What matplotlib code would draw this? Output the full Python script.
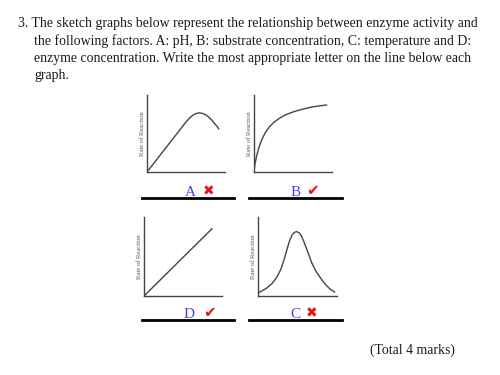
import matplotlib.pyplot as plt
from matplotlib.lines import Line2D

# ── data (sketch curves, arbitrary 0–10 units) ────────────────────────────────
ph_x = [0, 1.0, 2.0, 3.0, 4.0, 5.0, 5.5, 5.9, 6.3, 6.7, 7.1, 7.5, 7.9, 8.3, 8.7, 9.0, 9.2]
ph_y = [0, 1.3, 2.6, 3.9, 5.2, 6.5, 7.05, 7.4, 7.6, 7.68, 7.62, 7.45, 7.15, 6.75, 6.25, 5.9, 5.6]

sub_x = [0, 0.1, 0.3, 0.6, 1.0, 1.5, 2.0, 2.6, 3.3, 4.1, 5.0, 6.0, 7.2, 8.3, 9.3]
sub_y = [0, 0.9, 1.9, 3.1, 4.2, 5.2, 5.9, 6.5, 7.0, 7.45, 7.8, 8.1, 8.4, 8.58, 8.7]

enz_x = [0, 8.7]
enz_y = [0, 8.5]

temp_x = [0, 0.5, 1.1, 1.8, 2.4, 2.9, 3.3, 3.7, 4.0, 4.3, 4.6, 4.9, 5.2, 5.5, 5.8,
          6.1, 6.4, 6.8, 7.3, 7.9, 8.5, 9.1, 9.7]
temp_y = [0.4, 0.65, 1.0, 1.6, 2.4, 3.4, 4.6, 6.0, 7.0, 7.7, 8.05, 8.15, 8.0, 7.6, 6.9,
          6.1, 5.3, 4.2, 3.2, 2.3, 1.5, 0.9, 0.5]

graph_order = ["A", "B", "D", "C"]
answers     = {"A": "A", "B": "B", "D": "D", "C": "C"}
correct     = {"A": False, "B": True, "D": True, "C": False}

question = [
    ("3. The sketch graphs below represent the relationship between enzyme activity and", 18),
    ("the following factors. A: pH, B: substrate concentration, C: temperature and D:", 34),
    ("enzyme concentration. Write the most appropriate letter on the line below each", 34),
    ("graph.", 34),
]

W, H = 500, 375
fig = plt.figure(figsize=(W / 100, H / 100), dpi=100, facecolor="white")
plt.rcParams["font.family"] = ["Liberation Serif", "DejaVu Serif"]


def fx(px):
    return px / W


def fy(py):
    return 1 - py / H


# ── question text ─────────────────────────────────────────────────────────────
for i, (line, x0) in enumerate(question):
    fig.text(fx(x0), fy(24 + 17.3 * i), line, fontsize=9.9, color="#1a1a1a",
             ha="left", va="center")

# ── graphs ────────────────────────────────────────────────────────────────────
# axes box (left, right, top, bottom), answer line (x0, x1, y), letter x, mark x
boxes = {
    "A": (147, 225, 95, 172),
    "B": (254, 332, 95, 172),
    "D": (144, 222, 217, 296),
    "C": (258, 337, 217, 296),
}
lines = {
    "A": (142, 234, 198),
    "B": (249, 342, 198),
    "D": (142, 234, 320),
    "C": (249, 342, 320),
}
letter_pos = {"A": (190, 209), "B": (296, 313), "D": (189, 210), "C": (295, 312)}
curves = {
    "A": (ph_x, ph_y),
    "B": (sub_x, sub_y),
    "D": (enz_x, enz_y),
    "C": (temp_x, temp_y),
}

for key in graph_order:
    l, r, t, b = boxes[key]
    ax = fig.add_axes([fx(l), fy(b), (r - l) / W, (b - t) / H])
    ax.plot(*curves[key], color="#444444", lw=1.0)
    ax.set_xlim(0, 10)
    ax.set_ylim(0, 10)
    ax.set_xticks([])
    ax.set_yticks([])
    for s in ["top", "right"]:
        ax.spines[s].set_visible(False)
    for s in ["left", "bottom"]:
        ax.spines[s].set_color("#444444")
        ax.spines[s].set_linewidth(1.0)
    ax.set_ylabel("Rate of Reaction", fontsize=4.8, color="#555555", labelpad=1.5)

    # answer line and marks
    x0, x1, yl = lines[key]
    fig.add_artist(Line2D([fx(x0), fx(x1)], [fy(yl), fy(yl)], color="black", lw=2.0))
    lx, mx = letter_pos[key]
    fig.text(fx(lx), fy(yl - 6), answers[key], fontsize=11,
             color="#4444dd", ha="center", va="center")
    mark = "\u2714" if correct[key] else "\u2716"
    fig.text(fx(mx), fy(yl - 7), mark, fontsize=11 if correct[key] else 10,
             color="#ee1111", ha="center", va="center", family="DejaVu Sans")

fig.text(fx(370), fy(350), "(Total 4 marks)", fontsize=9.9, color="#1a1a1a",
         ha="left", va="center")

plt.savefig("out.png", dpi=100, facecolor="white")
plt.close()
